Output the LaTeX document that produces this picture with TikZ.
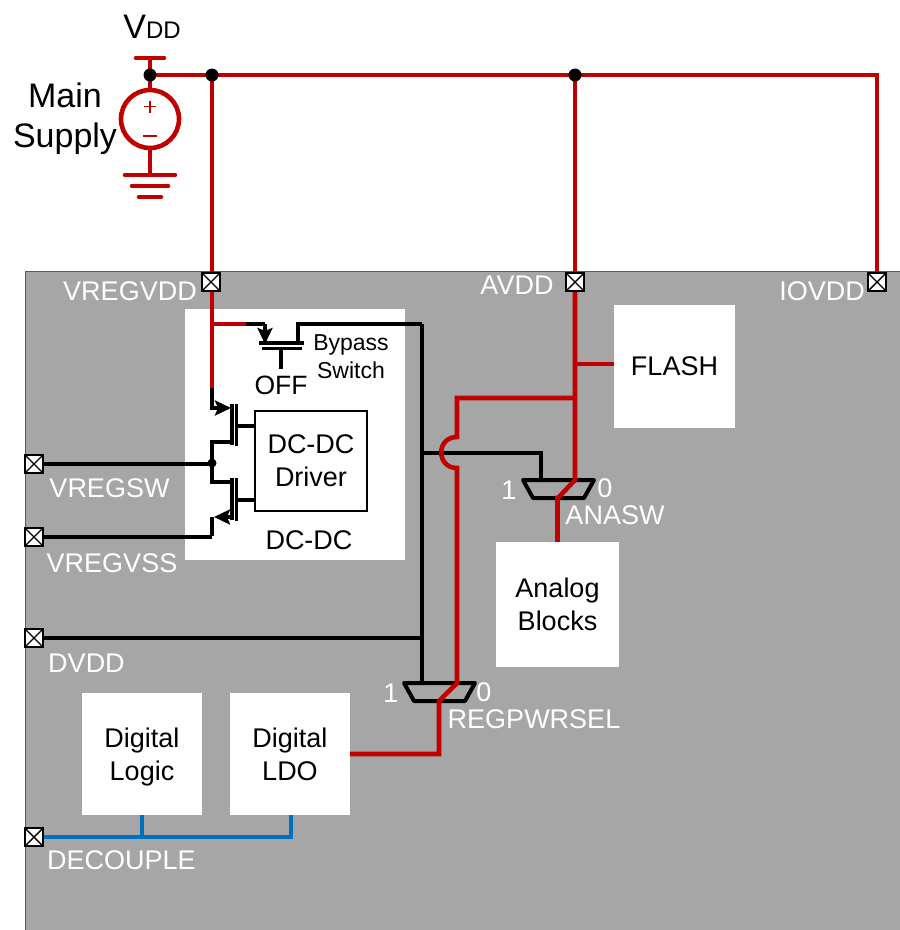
\documentclass[tikz,border=0pt]{standalone}
\usepackage{xcolor}
\usepackage{fontspec}
\setmainfont{Liberation Sans}
\usetikzlibrary{arrows.meta}
\definecolor{wirered}{HTML}{C00000}
\definecolor{wireblue}{HTML}{0070C0}
\definecolor{chipgray}{HTML}{A6A6A6}
\newcommand{\fpx}[1]{\fontsize{#1}{#1}\selectfont}
\tikzset{
  redwire/.style={draw=wirered,line width=4.6pt},
  blackwire/.style={draw=black,line width=4.4pt},
  bluewire/.style={draw=wireblue,line width=4.4pt},
  devline/.style={draw=black,line width=3.4pt},
  padbox/.style={draw=black,fill=white,line width=2pt,minimum size=18pt,inner sep=0pt,
    path picture={\draw[black,line width=1.4pt] (path picture bounding box.north west)--(path picture bounding box.south east)
      (path picture bounding box.north east)--(path picture bounding box.south west);}},
  whitebox/.style={fill=white,inner sep=0pt,align=center,font=\fpx{27}},
  chiplabel/.style={text=white,inner sep=0pt,font=\fpx{27}},
  blacklabel/.style={text=black,inner sep=0pt,align=center},
  fet/.style={-{Stealth[length=16pt,width=15pt,inset=3pt]},devline},
  muxsel/.pic={\draw[black,line width=4pt,line join=round] (-35.5,-9)--(35.5,-9)--(25.5,9)--(-25.5,9)--cycle;}
}
\begin{document}
\begin{tikzpicture}[x=1pt,y=-1pt]
  \useasboundingbox (0,0) rectangle (900,930);

  % Chip area and white blocks
  \fill[chipgray] (25,271) rectangle (900,930);
  \draw[black!65,line width=1pt] (25,930)--(25,271)--(900,271);
  \node[whitebox,minimum width=220pt,minimum height=251pt] (dcdc) at (295,434.5) {};
  \node[whitebox,minimum width=121pt,minimum height=123pt] (flash) at (674.5,366.5) {\raisebox{1pt}{FLASH}};
  \node[whitebox,minimum width=123pt,minimum height=125pt] (analog) at (557.5,604.5) {Analog\\[6pt]Blocks};
  \node[whitebox,minimum width=120pt,minimum height=122pt] (logic) at (142,754) {\rule{0pt}{25pt}Digital\\[6pt]Logic};
  \node[whitebox,minimum width=120pt,minimum height=122pt] (ldo) at (290,754) {Digital\\[6pt]LDO};
  \node[draw=black,line width=1.2pt,fill=white,inner sep=0pt,align=center,font=\fpx{27},
    minimum width=112pt,minimum height=100pt] (driver) at (311,461) {DC-DC\\[6pt]Driver};

  % Pads
  \node[padbox] (padvreg) at (211,282) {};
  \node[padbox] (padavdd) at (575,282) {};
  \node[padbox] (padio) at (877,282) {};
  \node[padbox] (padsw) at (34,464) {};
  \node[padbox] (padvss) at (34,537) {};
  \node[padbox] (paddvdd) at (34,638) {};
  \node[padbox] (paddec) at (34,837) {};

  % Junctions on the wires
  \coordinate (supply) at (150,75);
  \coordinate (railreg) at (212,75);
  \coordinate (railana) at (575,75);
  \coordinate (railio) at (877,75);
  \coordinate (teereg) at (212,324);
  \coordinate (redend) at (246,324);
  \coordinate (srcup) at (212,388);
  \coordinate (midsw) at (212,463);
  \coordinate (rail) at (422,324);
  \coordinate (anatee) at (575,398);
  \coordinate (anaflash) at (575,364);
  \coordinate (anain) at (575,480);
  \coordinate (anaout) at (558,498);
  \coordinate (hoptop) at (457,437);
  \coordinate (hopbot) at (457,468);
  \coordinate (regin) at (457,683);
  \coordinate (regout) at (439,701);
  \coordinate (muxana) at (558.5,489);
  \coordinate (muxreg) at (439.5,692);

  % Main supply
  \draw[redwire,line cap=round] (136,58)--(164,58);
  \draw[redwire] (150,58)--(150,89);
  \draw[redwire] (supply)--(railio)--(padio);
  \draw[redwire] (railreg)--(railreg |- padvreg.north);
  \draw[redwire] (railana)--(padavdd);
  \node[draw=wirered,line width=4.6pt,fill=white,circle,minimum size=58pt,inner sep=0pt] (source) at (150,119) {};
  \draw[draw=wirered,line width=1.5pt] (144,106.5)--(156,106.5) (150,100.5)--(150,112.5);
  \draw[draw=wirered,line width=2pt] (143,136)--(157,136);
  \draw[redwire] (source)--(150,175);
  \draw[redwire,line cap=round] (125,175)--(175,175) (132,186)--(168,186) (139,197)--(161,197);
  \fill (supply) circle (6.5pt) (railreg) circle (6.5pt) (railana) circle (6.5pt);

  % Bypass switch
  \draw[devline] (redend)--(265,324);
  \draw[fet] (265,324)--(265,344);
  \draw[devline] (259,343)--(304,343) (262,348.5)--(302,348.5) (281,348.5)--(281,369);
  \draw[devline] (298,343)--(298,324)--(318,324);
  \draw[blackwire] (316,324)--(rail);
  \draw[redwire] (srcup |- padvreg.south)--(srcup) (teereg)--(redend);

  % DC-DC power stage
  \draw[devline] (srcup)--(212,408)--(218,408);
  \draw[fet] (212,408)--(231,408);
  \draw[devline] (232,404)--(232,445) (236.5,404)--(236.5,446) (236.5,426)--(driver.west |- 236.5,426);
  \draw[devline] (232,442)--(212,442)--(212,482)--(232,482);
  \draw[devline] (232,478)--(232,520) (236.5,478)--(236.5,521) (236.5,500)--(driver.west |- 236.5,500);
  \draw[fet] (232,517)--(214,517);
  \draw[devline] (212,517)--(212,536);
  \draw[blackwire] (padsw)--(padsw -| midsw);
  \draw[blackwire] (padvss)--(212,537);
  \fill (midsw) circle (4.5pt);

  % Black supply rail into the selectors
  \draw[blackwire] (rail)--(422,683);
  \draw[blackwire] (paddvdd)--(paddvdd -| rail);
  \draw[blackwire] (422,453)--(541,453)--(541,480);
  \pic at (muxana) {muxsel};
  \pic at (muxreg) {muxsel};

  % Analog supply
  \draw[redwire] (padavdd)--(anain)--(anaout)--(analog.north |- anaout)--(analog.north);
  \draw[redwire] (anaflash)--(anaflash -| flash.west);
  \draw[redwire] (anatee)--(457,398)--(hoptop) .. controls (436,437) and (436,468) .. (hopbot)--(regin)--(regout)--(regout |- ldo.east)--(ldo.east);

  % Decoupling net
  \draw[bluewire] (paddec)--(291,837)--(291,815);
  \draw[bluewire] (142,837)--(logic.south);

  % Text labels
  \node[blacklabel,font=\fpx{34}] (vdd) at (152,27) {V{\fpx{24}DD}};
  \node[blacklabel,font=\fpx{34}] (mainsup) at (65,119) {Main\\[6pt]Supply};
  \node[blacklabel,font=\fpx{26.5}] (off) at (281,385) {OFF};
  \node[blacklabel,font=\fpx{23}] (bypass) at (351,356.5) {Bypass\\[5pt]Switch};
  \node[blacklabel,font=\fpx{27}] (dcdclabel) at (309,540) {DC-DC};
  \node[chiplabel] (lvreg) at (130,291) {VREGVDD};
  \node[chiplabel] (lavdd) at (517,285) {AVDD};
  \node[chiplabel] (lio) at (822,291) {IOVDD};
  \node[chiplabel] (lsw) at (109.5,488) {VREGSW};
  \node[chiplabel] (lvss) at (112,563) {VREGVSS};
  \node[chiplabel] (ldvdd) at (86.5,663) {DVDD};
  \node[chiplabel] (ldec) at (121.5,860) {DECOUPLE};
  \node[chiplabel] (lanasw) at (615,515) {ANASW};
  \node[chiplabel] (lregsel) at (534,719) {REGPWRSEL};
  \node[chiplabel] (anaone) at (509,490) {1};
  \node[chiplabel] (anazero) at (605,488) {0};
  \node[chiplabel] (regone) at (391,693) {1};
  \node[chiplabel] (regzero) at (484,692) {0};
\end{tikzpicture}
\end{document}
